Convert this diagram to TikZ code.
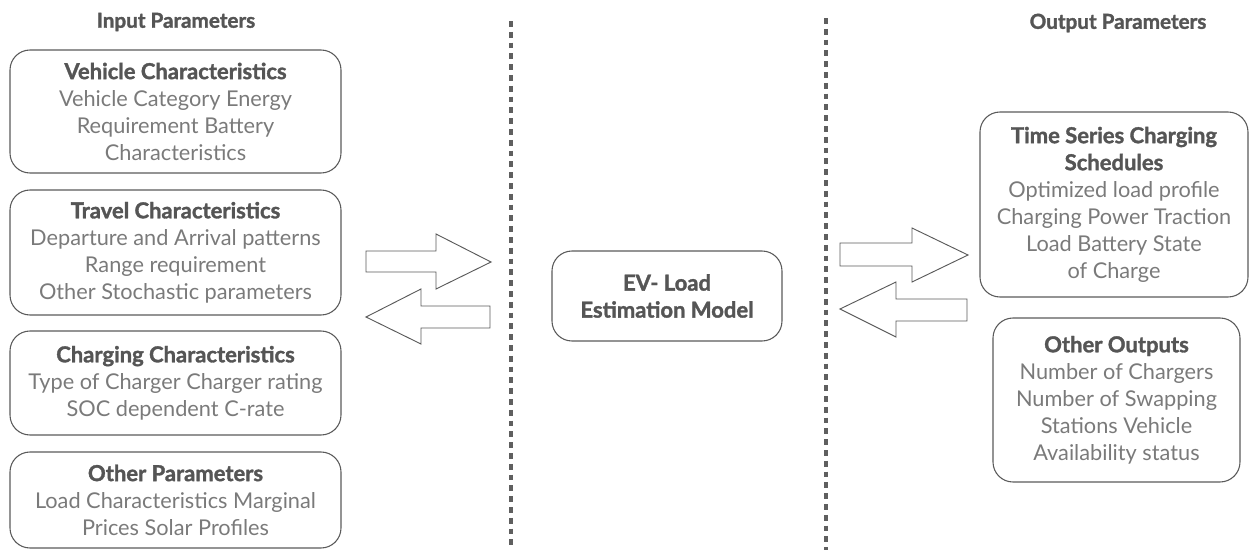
\documentclass[tikz,border=0pt]{standalone}
\usepackage{fontspec}
\setmainfont{Lato}[BoldFeatures={FakeBold=1.5}]
\definecolor{linecol}{HTML}{5A5A5A}
\definecolor{titlecol}{HTML}{555555}
\definecolor{bodycol}{HTML}{7A7A7A}
\definecolor{dotcol}{HTML}{5F5F5F}
\newcommand{\ttl}[1]{{\fontsize{16.5}{20.25}\selectfont\bfseries\color{titlecol}#1}}
\begin{document}
\begin{tikzpicture}[x=0.75pt,y=-0.75pt,
  pbox/.style={draw=linecol, line width=0.8pt, rounded corners=15pt, align=center,
    inner sep=0pt, text=bodycol, font=\fontsize{16.3}{20.25}\selectfont},
  header/.style={font=\fontsize{15.5}{18}\selectfont\bfseries, text=titlecol, inner sep=0pt},
  blockarrow/.style={draw=linecol, line width=0.7pt, fill=white},
  divider/.style={draw=dotcol, line width=3pt, dash pattern=on 4.3pt off 3.8pt}]
\useasboundingbox (0,0) rectangle (1250,550);

% headers
\node[header] (hin) at (176,22) {Input Parameters};
\node[header] (hout) at (1118,23) {Output Parameters};

% dividers
\coordinate (d1t) at (511,21);
\coordinate (d1b) at (511,552);
\coordinate (d2t) at (826,18);
\coordinate (d2b) at (826,552);
\draw[divider] (d1t) -- (d1b);
\draw[divider] (d2t) -- (d2b);

% input boxes
\node[pbox, minimum width=248.25pt, minimum height=92.25pt] (veh) at (175.5,111.5)
  {\ttl{Vehicle Characteristics}\\Vehicle Category Energy\\Requirement Battery\\Characteristics};
\node[pbox, minimum width=248.25pt, minimum height=93.75pt] (trav) at (175.5,252.5)
  {\ttl{Travel Characteristics}\\Departure and Arrival patterns\\Range requirement\\Other Stochastic parameters};
\node[pbox, minimum width=248.25pt, minimum height=78pt] (chg) at (175.5,383)
  {\ttl{Charging Characteristics}\\Type of Charger Charger rating\\SOC dependent C-rate};
\node[pbox, minimum width=248.25pt, minimum height=72pt] (oth) at (175.5,500)
  {\ttl{Other Parameters}\\Load Characteristics Marginal\\Prices Solar Profiles};

% model
\node[pbox, minimum width=172.5pt, minimum height=67.5pt] (model) at (667,296)
  {\ttl{EV- Load}\\\ttl{Estimation Model}};

% output boxes
\node[pbox, minimum width=201pt, minimum height=138.75pt] (ts) at (1114,204.5)
  {\ttl{Time Series Charging}\\\ttl{Schedules}\\Optimized load profile\\Charging Power Traction\\Load Battery State\\of Charge};
\node[pbox, minimum width=185.25pt, minimum height=123pt] (oout) at (1116.5,400)
  {\ttl{Other Outputs}\\Number of Chargers\\Number of Swapping\\Stations Vehicle\\Availability status};

% block arrows (left side)
\draw[blockarrow] (366,251) -- (436,251) -- (436,234) -- (491,262) -- (436,289) -- (436,272) -- (366,272) -- cycle;
\draw[blockarrow] (490,306) -- (421,306) -- (421,289) -- (366,317) -- (421,344) -- (421,328) -- (490,328) -- cycle;
% block arrows (right side)
\draw[blockarrow] (840,243) -- (912,243) -- (912,228) -- (968,255) -- (912,282) -- (912,266) -- (840,266) -- cycle;
\draw[blockarrow] (967,299) -- (896,299) -- (896,282) -- (840,309) -- (896,337) -- (896,321) -- (967,321) -- cycle;
\end{tikzpicture}
\end{document}
